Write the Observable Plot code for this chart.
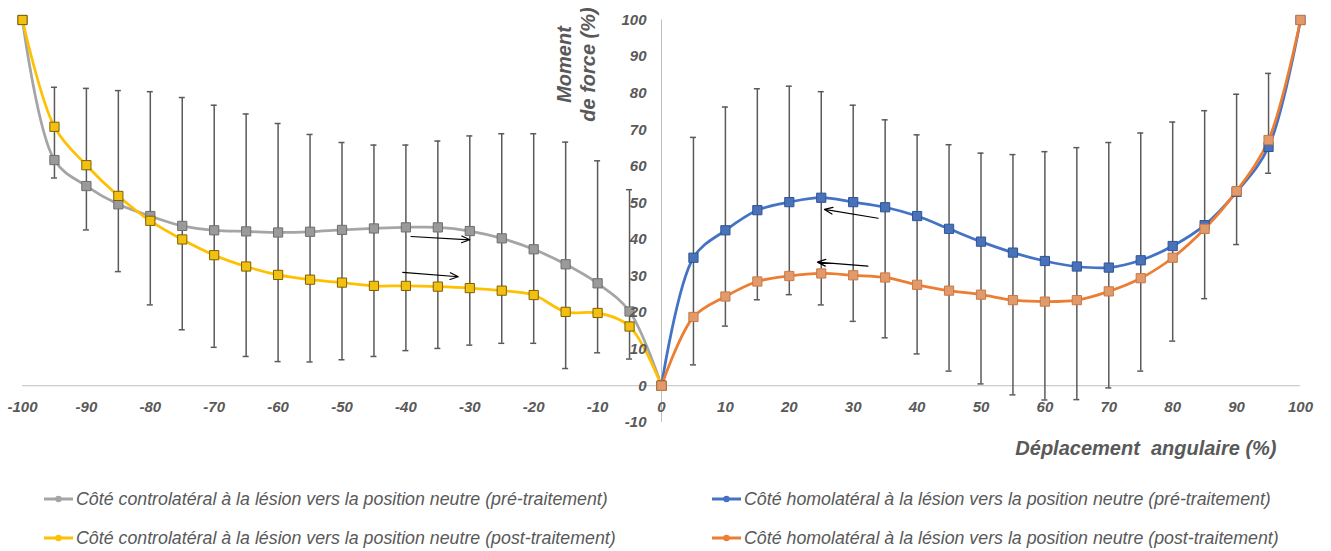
<!DOCTYPE html>
<html><head><meta charset="utf-8">
<script src="https://cdn.jsdelivr.net/npm/d3@7"></script>
<script src="https://cdn.jsdelivr.net/npm/@observablehq/plot@0.6"></script>
<style>
body{margin:0;background:#fff;font-family:"Liberation Sans",Arial,sans-serif;}
#wrap{position:relative;width:1331px;height:551px;overflow:hidden;}
#wrap svg.plot{position:absolute;left:0;top:0;}
.leg{position:absolute;display:flex;align-items:center;height:24px;font-style:italic;font-size:17.8px;color:#595959;white-space:nowrap;}
.leg svg{margin-right:3px;}
</style></head><body><div id="wrap"></div>
<script>
// ---- data ----
const xLeft = [-100,-95,-90,-85,-80,-75,-70,-65,-60,-55,-50,-45,-40,-35,-30,-25,-20,-15,-10,-5,0];
const grayPre = [100,61.7,54.6,49.6,46.4,43.7,42.5,42.2,41.9,42.1,42.6,43.0,43.3,43.3,42.3,40.3,37.3,33.2,28.0,20.3,0];
const yellowPost = [100,70.8,60.3,51.9,45.1,40.0,35.7,32.6,30.3,29.0,28.2,27.3,27.3,27.1,26.7,26.0,24.8,20.2,19.9,16.2,0];
const xRight = [0,5,10,15,20,25,30,35,40,45,50,55,60,65,70,75,80,85,90,95,100];
const bluePre = [0,35.0,42.5,48.0,50.2,51.4,50.2,48.8,46.4,42.9,39.4,36.4,34.1,32.6,32.3,34.3,38.2,43.9,53.0,65.3,100];
const orangePost = [0,18.8,24.4,28.5,30.0,30.7,30.2,29.6,27.6,26.0,24.9,23.4,23.0,23.4,25.8,29.4,35.0,42.9,53.2,67.2,100];

const errX = [-95,-90,-85,-80,-75,-70,-65,-60,-55,-50,-45,-40,-35,-30,-25,-20,-15,-10,-5,
              5,10,15,20,25,30,35,40,45,50,55,60,65,70,75,80,85,90,95];
const errHigh = [81.6,81.3,80.7,80.4,78.8,76.7,74.3,71.7,68.7,66.5,65.8,65.8,66.9,68.3,68.9,68.9,66.6,61.5,53.6,
                 67.9,76.2,81.2,81.9,80.4,76.7,72.7,68.6,65.9,63.6,63.2,64.0,65.1,66.5,69.1,72.1,75.2,79.7,85.4];
const errLow = [56.8,42.6,31.2,22.1,15.3,10.5,8.0,6.6,6.5,7.1,8.0,9.6,10.2,11.1,11.6,11.6,4.7,9.0,7.3,
                5.7,16.3,23.5,24.9,22.1,17.6,13.1,8.7,4.0,0.5,-2.5,-3.9,-3.8,-0.6,4.0,12.2,23.8,38.6,58.1];

const xTicks = [-100,-90,-80,-70,-60,-50,-40,-30,-20,-10,0,10,20,30,40,50,60,70,80,90,100];
const yTicks = [-10,0,10,20,30,40,50,60,70,80,90,100];

const arrowX1 = [-39.2,-40.5,33.9,32.3];
const arrowY1 = [40.8,31.0,45.8,32.7];
const arrowX2 = [-30.0,-31.8,25.5,24.4];
const arrowY2 = [39.9,29.8,48.2,33.8];

const seriesNames = [
  "Côté controlatéral à la lésion vers la position neutre (pré-traitement)",
  "Côté controlatéral à la lésion vers la position neutre (post-traitement)",
  "Côté homolatéral à la lésion vers la position neutre (pré-traitement)",
  "Côté homolatéral à la lésion vers la position neutre (post-traitement)"
];
const seriesColors = ["#A5A5A5","#FFC000","#4472C4","#ED7D31"];
const markerFill = ["#9A9A9A","#F2C010","#4A72B8","#E29A6A"];
const markerStroke = ["#6E6E6E","#806000","#2F5597","#C77A4A"];
const xTitle = "Déplacement  angulaire (%)";
const yTitle = "Moment\nde force (%)";

// ---- build tables ----
const series = [
  {xs: xLeft, ys: grayPre, i: 0},
  {xs: xRight, ys: bluePre, i: 2},
  {xs: xLeft, ys: yellowPost, i: 1},
  {xs: xRight, ys: orangePost, i: 3}
];
const pts = series.flatMap(s => s.xs.map((x, k) => ({x, y: s.ys[k], s: s.i})));
const errs = errX.map((x, k) => ({x, hi: errHigh[k], lo: errLow[k]}));
const arrows = arrowX1.map((x1, k) => ({x1, y1: arrowY1[k], x2: arrowX2[k], y2: arrowY2[k]}));
const cap = 0.47;
const txt = "#595959";

const marks = [
  Plot.ruleY([0], {x1: -100, x2: 100, stroke: "#BFBFBF", strokeWidth: 1}),
  Plot.ruleX([0], {y1: -10, y2: 100, stroke: "#BFBFBF", strokeWidth: 1}),
  Plot.ruleX(errs, {x: "x", y1: "lo", y2: "hi", stroke: "#5A5A5A", strokeWidth: 1.5}),
  Plot.ruleY(errs, {y: "hi", x1: d => d.x - cap, x2: d => d.x + cap, stroke: "#5A5A5A", strokeWidth: 1.5}),
  Plot.ruleY(errs, {y: "lo", x1: d => d.x - cap, x2: d => d.x + cap, stroke: "#5A5A5A", strokeWidth: 1.5}),
];
for (const s of series) {
  const data = pts.filter(p => p.s === s.i);
  marks.push(Plot.line(data, {x: "x", y: "y", stroke: seriesColors[s.i], strokeWidth: 2.75, curve: "catmull-rom"}));
}
for (const s of series) {
  const data = pts.filter(p => p.s === s.i);
  marks.push(Plot.dot(data, {x: "x", y: "y", symbol: "square", r: 5.2, fill: markerFill[s.i], stroke: markerStroke[s.i], strokeWidth: 1}));
}
marks.push(
  Plot.arrow(arrows, {x1: "x1", y1: "y1", x2: "x2", y2: "y2", stroke: "black", strokeWidth: 1.2, headLength: 11, headAngle: 45}),
  Plot.text(xTicks, {x: d => d, y: 0, text: d => String(d), dy: 21.5, lineAnchor: "middle", fontSize: 15, fontWeight: "bold", fontStyle: "italic", fill: txt}),
  Plot.text(yTicks, {x: 0, y: d => d, text: d => String(d), dx: -15, textAnchor: "end", lineAnchor: "middle", fontSize: 15, fontWeight: "bold", fontStyle: "italic", fill: txt}),
  Plot.text([xTitle], {frameAnchor: "bottom-right", text: d => d, dx: -24, dy: 26, textAnchor: "end", lineAnchor: "middle", fontSize: 20, fontWeight: "bold", fontStyle: "italic", fill: txt}),
  Plot.text([yTitle], {frameAnchor: "top", text: d => d, dx: -86, dy: 44.5, rotate: -90, textAnchor: "middle", lineAnchor: "middle", lineHeight: 1.2, fontSize: 20, fontWeight: "bold", fontStyle: "italic", fill: txt})
);

const chart = Plot.plot({
  width: 1331, height: 470,
  marginLeft: 22, marginRight: 31, marginTop: 19.5, marginBottom: 48.2,
  x: {domain: [-100, 100], axis: null},
  y: {domain: [-10, 100], axis: null},
  style: {fontFamily: "'Liberation Sans', Arial, sans-serif", background: "#fff", overflow: "visible"},
  marks
});
chart.classList.add("plot");
const wrap = document.getElementById("wrap");
wrap.appendChild(chart);

// ---- legend ----
const legPos = [[44, 487], [44, 526], [712, 487], [712, 526]];
seriesNames.forEach((name, i) => {
  const d = document.createElement("div");
  d.className = "leg";
  d.style.left = legPos[i][0] + "px";
  d.style.top = legPos[i][1] + "px";
  d.innerHTML = `<svg width="29" height="10"><line x1="0" x2="29" y1="5" y2="5" stroke="${seriesColors[i]}" stroke-width="3"/><circle cx="14.5" cy="5" r="3.2" fill="${seriesColors[i]}"/></svg>`;
  const span = document.createElement("span");
  span.textContent = name;
  d.appendChild(span);
  wrap.appendChild(d);
});
</script>
</body></html>
